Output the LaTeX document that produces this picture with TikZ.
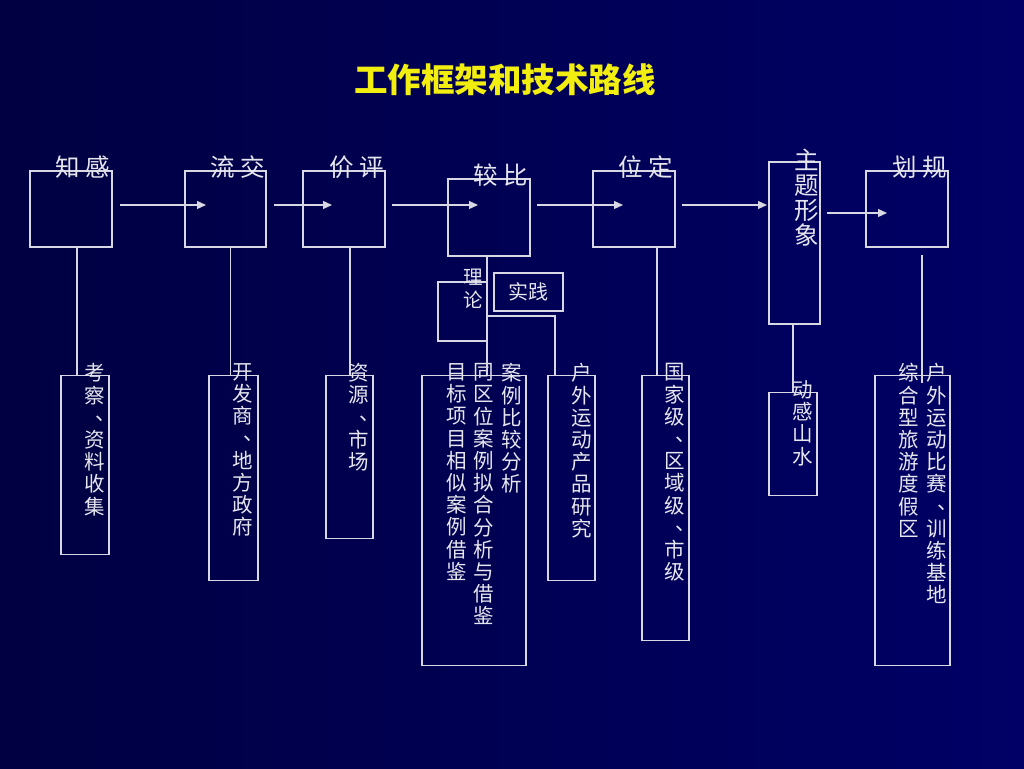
\documentclass[tikz,border=0pt]{standalone}
\usepackage{fontspec}
\usepackage{xcolor}
\usetikzlibrary{arrows.meta}
\newfontfamily\cjk{Noto Sans CJK SC}
\definecolor{bgdark}{HTML}{000042}
\definecolor{bglight}{HTML}{000066}
\definecolor{linegray}{HTML}{D8D8E4}
\definecolor{textgray}{HTML}{E6E6EE}
\definecolor{titleyellow}{HTML}{F2EE10}
% vertical-text comma, set at the right of its cell
\newcommand{\vdun}{\makebox[1em][l]{\hspace{0.5em}\raisebox{0.25em}{、}}}

\begin{document}
\begin{tikzpicture}[x=1pt, y=-1pt, >={Triangle[length=9pt,width=8pt]}, line width=1.2pt,
    box/.style={draw=linegray, inner sep=0pt},
    link/.style={draw=linegray},
    flow/.style={draw=linegray, fill=linegray, ->},
    head/.style={text=textgray, font=\cjk\fontsize{24.5}{25}\selectfont, inner sep=0pt},
    vtxt/.style={text=textgray, font=\cjk\fontsize{20.5}{22.2}\selectfont, align=center, inner sep=0pt, anchor=north}]
  \shade[left color=bgdark, right color=bglight] (0,0) rectangle (1024,768);
  \useasboundingbox (0,0) rectangle (1024,768);

  \node[font=\cjk\bfseries\fontsize{33.5}{34}\selectfont, text=titleyellow] (title) at (505,80) {工作框架和技术路线};

  % top row
  \node[box, minimum width=82, minimum height=76] (gz) at (71,209) {};
  \node[box, minimum width=81, minimum height=76] (jl) at (225.5,209) {};
  \node[box, minimum width=82, minimum height=76] (pj) at (344,209) {};
  \node[box, minimum width=82, minimum height=77] (bj) at (489,217.5) {};
  \node[box, minimum width=82, minimum height=76] (dw) at (634,209) {};
  \node[box, minimum width=51, minimum height=162] (zt) at (794.5,243) {};
  \node[box, minimum width=82, minimum height=76] (gh) at (907,209) {};

  \node[head] (gz-t) at (83,167) {知 感};
  \node[head] (jl-t) at (238,167) {流 交};
  \node[head] (pj-t) at (357,167) {价 评};
  \node[head] (bj-t) at (501,175) {较 比};
  \node[head] (dw-t) at (646,167) {位 定};
  \node[head, align=center, anchor=north] (zt-t) at (807,148) {主\\题\\形\\象};
  \node[head] (gh-t) at (920,167) {划 规};

  \coordinate (s1) at (120,205); \coordinate (e1) at (206,205);
  \coordinate (s2) at (274,205); \coordinate (e2) at (332,205);
  \coordinate (s3) at (392,205); \coordinate (e3) at (478,205);
  \coordinate (s4) at (537,205); \coordinate (e4) at (623,205);
  \coordinate (s5) at (682,205); \coordinate (e5) at (767,205);
  \coordinate (s6) at (827,213); \coordinate (e6) at (887,213);
  \foreach \i in {1,...,6}
    \draw[flow] (s\i) -- (e\i);

  % theory / practice
  \node[box, minimum width=49, minimum height=59] (ll) at (462.5,311.5) {};
  \node[vtxt, font=\cjk\fontsize{19.5}{23}\selectfont] (ll-t) at (473,268) {理\\论};
  \node[box, minimum width=69, minimum height=38, text=textgray, font=\cjk\fontsize{20}{20}\selectfont] (sj) at (528.5,292) {实践};

  % bottom row
  \node[box, anchor=north, minimum width=48, minimum height=179] (kc) at (85,375) {};
  \node[box, anchor=north, minimum width=49, minimum height=205] (kf) at (233.5,375) {};
  \node[box, anchor=north, minimum width=47, minimum height=163] (zy) at (349.5,375) {};
  \node[box, anchor=north, minimum width=104, minimum height=290] (mb) at (474,375) {};
  \node[box, anchor=north, minimum width=47, minimum height=205] (hy) at (571.5,375) {};
  \node[box, anchor=north, minimum width=47, minimum height=265] (gj) at (665.5,375) {};
  \node[box, anchor=north, minimum width=48, minimum height=103] (dg) at (793,392) {};
  \node[box, anchor=north, minimum width=75, minimum height=290] (zh) at (912.5,375) {};

  \node[vtxt] (kc-t) at (95,363) {考\\察\\\vdun\\资\\料\\收\\集};
  \node[vtxt] (kf-t) at (243,363) {开\\发\\商\\\vdun\\地\\方\\政\\府};
  \node[vtxt] (zy-t) at (359,363) {资\\源\\\vdun\\市\\场};
  \node[vtxt] (mb-t1) at (512,363) {案\\例\\比\\较\\分\\析};
  \node[vtxt] (mb-t2) at (484,363) {同\\区\\位\\案\\例\\拟\\合\\分\\析\\与\\借\\鉴};
  \node[vtxt] (mb-t3) at (457,363) {目\\标\\项\\目\\相\\似\\案\\例\\借\\鉴};
  \node[vtxt] (hy-t) at (582,363) {户\\外\\运\\动\\产\\品\\研\\究};
  \node[vtxt] (gj-t) at (675,363) {国\\家\\级\\\vdun\\区\\域\\级\\\vdun\\市\\级};
  \node[vtxt] (dg-t) at (803,380) {动\\感\\山\\水};
  \node[vtxt] (zh-t1) at (937,363) {户\\外\\运\\动\\比\\赛\\\vdun\\训\\练\\基\\地};
  \node[vtxt] (zh-t2) at (909,363) {综\\合\\型\\旅\\游\\度\\假\\区};

  % drops
  \coordinate (d1) at (77,247);
  \coordinate (d2) at (230.5,247);
  \coordinate (d3) at (350,247);
  \coordinate (d4) at (487,256);
  \coordinate (d5) at (657,247);
  \coordinate (d6) at (793,324);
  \coordinate (d7) at (922,255);
  \coordinate (fork) at (487,316);
  \coordinate (hy-in) at (555,375);
  \draw[link] (d1) -- (d1 |- kc.north);
  \draw[link] (d2) -- (d2 |- kf.north);
  \draw[link] (d3) -- (d3 |- zy.north);
  \draw[link] (d4) -- (d4 |- mb.north);
  \draw[link] (fork) -| (hy-in);
  \draw[link] (d5) -- (d5 |- gj.north);
  \draw[link] (d6) -- (d6 |- dg.north);
  \draw[link] (d7) -- ++(0,128);
\end{tikzpicture}
\end{document}
